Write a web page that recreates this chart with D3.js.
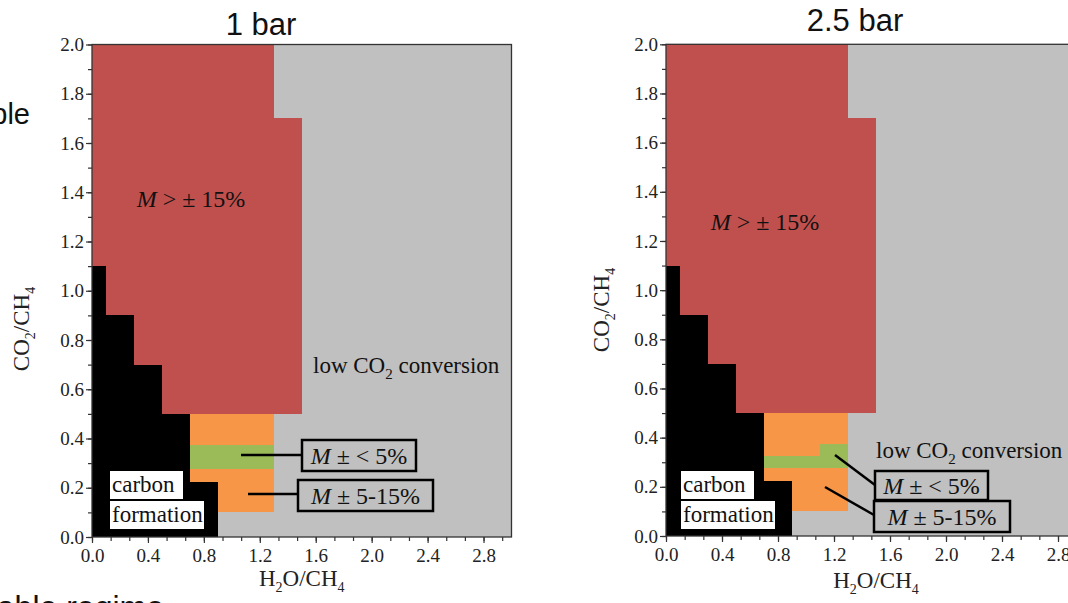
<!DOCTYPE html>
<html>
<head>
<meta charset="utf-8">
<script src="https://cdn.jsdelivr.net/npm/d3@7"></script>
<style>
  html, body { margin: 0; padding: 0; background: #fff; }
  svg { display: block; }
</style>
</head>
<body>
<div id="chart"></div>
<script>
  // axis ticks
  const xTicks = [0.0, 0.4, 0.8, 1.2, 1.6, 2.0, 2.4, 2.8];
  const yTicks = [0.0, 0.2, 0.4, 0.6, 0.8, 1.0, 1.2, 1.4, 1.6, 1.8, 2.0];

  // regime cells as [x0, x1, y0, y1] in H2O/CH4, CO2/CH4
  const carbonCells = [
    [0.0, 0.1, 0.0, 1.1],
    [0.1, 0.3, 0.0, 0.9],
    [0.3, 0.5, 0.0, 0.7],
    [0.5, 0.7, 0.0, 0.5],
    [0.7, 0.9, 0.0, 0.225]
  ];
  const highDevCells = [
    [0.0, 0.1, 1.1, 2.0],
    [0.1, 0.3, 0.9, 2.0],
    [0.3, 0.5, 0.7, 2.0],
    [0.5, 1.3, 0.5, 2.0],
    [1.3, 1.5, 0.5, 1.7]
  ];
  const midDevCells = [
    [0.7, 0.9, 0.225, 0.5],
    [0.9, 1.3, 0.1, 0.5]
  ];
  const lowDevCells1bar = [
    [0.7, 1.3, 0.275, 0.375]
  ];
  const lowDevCells25bar = [
    [0.7, 1.1, 0.275, 0.325],
    [1.1, 1.3, 0.275, 0.375]
  ];

  const titles = ['1 bar', '2.5 bar'];

  const COLORS = {
    bg: '#c0c0c0',
    carbon: '#000000',
    high: '#c0504d',
    mid: '#f79646',
    low: '#9bbb59'
  };
  const SERIF = '"Liberation Serif", "Times New Roman", serif';
  const SANS = '"Liberation Sans", Arial, sans-serif';

  const svg = d3.select('#chart').append('svg')
    .attr('width', 1068)
    .attr('height', 603);

  // leftover slide text
  svg.append('text')
    .attr('x', 30).attr('y', 124)
    .attr('text-anchor', 'end')
    .attr('font-family', SANS).attr('font-size', 29)
    .attr('fill', '#111')
    .text('stable');
  svg.append('text')
    .attr('x', 164).attr('y', 618)
    .attr('text-anchor', 'end')
    .attr('font-family', SANS).attr('font-size', 32)
    .attr('fill', '#111')
    .text('stable regime');

  const panels = [
    {
      title: titles[0], lowCells: lowDevCells1bar,
      x0: 92, x1: 511.5, yTop: 44.5, yBot: 537,
      titleX: 261, titleY: 35,
      yLabelX: 29, yLabelY: 329, xLabelY: 586,
      highX: 191, highY: 207,
      convX: 313, convY: 373,
      carbonX: 110,
      box1: [302, 440, 114, 31], box2: [298, 480, 135, 31],
      lead1: [241, 455, 302, 455], lead2: [248, 494, 298, 494]
    },
    {
      title: titles[1], lowCells: lowDevCells25bar,
      x0: 666, x1: 1086, yTop: 44.3, yBot: 536,
      titleX: 855, titleY: 31,
      yLabelX: 609, yLabelY: 310, xLabelY: 588,
      highX: 765, highY: 230,
      convX: 876, convY: 458,
      carbonX: 681,
      box1: [875, 471, 113, 29], box2: [874, 501, 136, 31],
      lead1: [835, 455, 875, 485], lead2: [825, 487, 874, 515]
    }
  ];

  panels.forEach(drawPanel);

  function drawPanel(p) {
    const g = svg.append('g');

    const x = d3.scaleLinear().domain([0, 3]).range([p.x0, p.x1]);
    const y = d3.scaleLinear().domain([0, 2]).range([p.yBot, p.yTop]);

    // background: low CO2 conversion
    g.append('rect')
      .attr('x', x(0)).attr('y', y(2))
      .attr('width', x(3) - x(0)).attr('height', y(0) - y(2))
      .attr('fill', COLORS.bg);

    const layers = [
      { cells: highDevCells, color: COLORS.high },
      { cells: midDevCells, color: COLORS.mid },
      { cells: p.lowCells, color: COLORS.low },
      { cells: carbonCells, color: COLORS.carbon }
    ];
    layers.forEach(layer => {
      g.selectAll(null)
        .data(layer.cells)
        .enter()
        .append('rect')
        .attr('x', d => x(d[0]))
        .attr('y', d => y(d[3]))
        .attr('width', d => x(d[1]) - x(d[0]))
        .attr('height', d => y(d[2]) - y(d[3]))
        .attr('fill', layer.color)
        .attr('shape-rendering', 'crispEdges');
    });

    // frame
    g.append('rect')
      .attr('x', x(0)).attr('y', y(2))
      .attr('width', x(3) - x(0)).attr('height', y(0) - y(2))
      .attr('fill', 'none')
      .attr('stroke', '#333')
      .attr('stroke-width', 1.3);

    // minor ticks
    const xMinor = d3.range(0, 3.0001, 0.4 / 3);
    const yMinor = d3.range(0, 2.0001, 0.1);
    g.append('g')
      .attr('transform', `translate(0,${y(0)})`)
      .call(d3.axisBottom(x).tickValues(xMinor).tickSize(4).tickFormat(''))
      .call(s => s.select('.domain').remove());
    g.append('g')
      .attr('transform', `translate(${x(0)},0)`)
      .call(d3.axisLeft(y).tickValues(yMinor).tickSize(4).tickFormat(''))
      .call(s => s.select('.domain').remove());

    // major ticks + labels
    const xAx = g.append('g')
      .attr('transform', `translate(0,${y(0)})`)
      .call(d3.axisBottom(x).tickValues(xTicks).tickSize(6).tickPadding(6).tickFormat(d3.format('.1f')));
    const yAx = g.append('g')
      .attr('transform', `translate(${x(0)},0)`)
      .call(d3.axisLeft(y).tickValues(yTicks).tickSize(6).tickPadding(2).tickFormat(d3.format('.1f')));
    [xAx, yAx].forEach(ax => {
      ax.select('.domain').remove();
      ax.selectAll('text')
        .attr('font-family', SERIF)
        .attr('font-size', 19)
        .attr('fill', '#222');
    });
    g.selectAll('.tick line').attr('stroke', '#333').attr('stroke-width', 1.2);

    // title
    g.append('text')
      .attr('x', p.titleX).attr('y', p.titleY)
      .attr('text-anchor', 'middle')
      .attr('font-family', SANS).attr('font-size', 31)
      .attr('fill', '#111')
      .text(p.title);

    // axis titles
    const yl = g.append('text')
      .attr('transform', `translate(${p.yLabelX},${p.yLabelY}) rotate(-90)`)
      .attr('text-anchor', 'middle')
      .attr('font-family', SERIF).attr('font-size', 23)
      .attr('fill', '#222');
    yl.append('tspan').text('CO');
    yl.append('tspan').attr('font-size', 14).attr('dy', 6).text('2');
    yl.append('tspan').attr('dy', -6).text('/CH');
    yl.append('tspan').attr('font-size', 14).attr('dy', 6).text('4');

    const xl = g.append('text')
      .attr('x', (p.x0 + p.x1) / 2).attr('y', p.xLabelY)
      .attr('text-anchor', 'middle')
      .attr('font-family', SERIF).attr('font-size', 23)
      .attr('fill', '#222');
    xl.append('tspan').text('H');
    xl.append('tspan').attr('font-size', 14).attr('dy', 6).text('2');
    xl.append('tspan').attr('dy', -6).text('O/CH');
    xl.append('tspan').attr('font-size', 14).attr('dy', 6).text('4');

    // region labels
    const hi = g.append('text')
      .attr('x', p.highX).attr('y', p.highY)
      .attr('text-anchor', 'middle')
      .attr('font-family', SERIF).attr('font-size', 24)
      .attr('fill', '#111');
    hi.append('tspan').attr('font-style', 'italic').text('M');
    hi.append('tspan').text(' > \u00b1 15%');

    const conv = g.append('text')
      .attr('x', p.convX).attr('y', p.convY)
      .attr('font-family', SERIF).attr('font-size', 23)
      .attr('fill', '#111');
    conv.append('tspan').text('low CO');
    conv.append('tspan').attr('font-size', 15).attr('dy', 6).text('2');
    conv.append('tspan').attr('dy', -6).text(' conversion');

    // carbon formation label (white boxes)
    [['carbon', 471, 73], ['formation', 501, 94]].forEach(([word, top, w]) => {
      g.append('rect')
        .attr('x', p.carbonX).attr('y', top)
        .attr('width', w).attr('height', 28)
        .attr('fill', '#fff');
      g.append('text')
        .attr('x', p.carbonX + 2).attr('y', top + 21)
        .attr('font-family', SERIF).attr('font-size', 23)
        .attr('fill', '#111')
        .text(word);
    });

    // leader lines
    [p.lead1, p.lead2].forEach(l => {
      g.append('line')
        .attr('x1', l[0]).attr('y1', l[1])
        .attr('x2', l[2]).attr('y2', l[3])
        .attr('stroke', '#000')
        .attr('stroke-width', 2.5);
    });

    // boxed labels
    [[p.box1, ' \u00b1 < 5%'], [p.box2, ' \u00b1 5-15%']].forEach(([b, rest]) => {
      g.append('rect')
        .attr('x', b[0]).attr('y', b[1])
        .attr('width', b[2]).attr('height', b[3])
        .attr('fill', COLORS.bg)
        .attr('stroke', '#000')
        .attr('stroke-width', 2.5);
      const t = g.append('text')
        .attr('x', b[0] + b[2] / 2).attr('y', b[1] + b[3] / 2 + 8)
        .attr('text-anchor', 'middle')
        .attr('font-family', SERIF).attr('font-size', 24)
        .attr('fill', '#111');
      t.append('tspan').attr('font-style', 'italic').text('M');
      t.append('tspan').text(rest);
    });
  }
</script>
</body>
</html>
